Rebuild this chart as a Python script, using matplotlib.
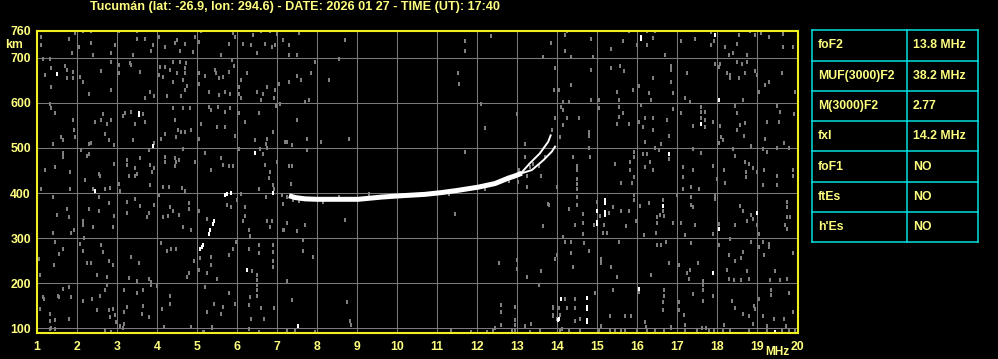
import matplotlib
matplotlib.use("Agg")
import matplotlib.pyplot as plt
import numpy as np

# ---------------- data ----------------
title = "Tucumán (lat: -26.9, lon: 294.6) - DATE: 2026 01 27 - TIME (UT): 17:40"
x_ticks = list(range(1, 21))
y_ticks = [100, 200, 300, 400, 500, 600, 700, 760]

param_names = ["foF2", "MUF(3000)F2", "M(3000)F2", "fxI", "foF1", "ftEs", "h'Es"]
param_values = ["13.8 MHz", "38.2 MHz", "2.77", "14.2 MHz", "NO", "NO", "NO"]

# main F2 trace (MHz, km)
trace_f = [7.30, 7.45, 7.70, 8.00, 8.45, 9.03, 9.62, 10.12, 10.70, 11.12, 11.53, 12.03, 12.45, 12.78, 12.95, 13.12]
trace_h = [394, 390, 387, 386, 386, 386, 391, 394, 397, 401, 406, 413, 421, 433, 438, 444]
# ordinary branch near critical frequency
o_branch_f = [13.12, 13.32, 13.57, 13.78, 13.84]
o_branch_h = [446, 466, 488, 514, 528]
# extraordinary branch
x_branch_f = [13.12, 13.37, 13.66, 13.87, 13.95]
x_branch_h = [444, 451, 473, 492, 503]
# faint low trace near 5 MHz
low_f = [5.08, 5.12, 5.14, 5.29, 5.33, 5.40, 5.43, 5.71, 5.75, 5.86]
low_h = [276, 280, 285, 310, 317, 332, 337, 396, 398, 400]

# white echo dots
white_dots = [(1.50, 665), (3.54, 573), (3.54, 577), (3.90, 504), (6.44, 488), (2.46, 404), (6.25, 230), (6.90, 401),
              (7.53, 104), (14.03, 117), (16.10, 747), (16.10, 743), (17.94, 751), (18.04, 606), (17.60, 553),
              (16.79, 486), (15.00, 359), (15.00, 335), (15.00, 331), (15.21, 384), (15.21, 378), (15.21, 357),
              (15.21, 352), (16.65, 371), (18.04, 321), (19.00, 356), (17.90, 223), (16.04, 187), (14.10, 165),
              (14.75, 166), (14.75, 146), (14.75, 142), (14.04, 119), (14.75, 117), (14.75, 113), (19.46, 91)]

# grey noise dots (MHz, km), read region by region
noise_low_f_top = [
    (1.10, 746), (1.10, 729), (1.79, 742), (1.94, 756), (2.14, 760), (2.35, 760), (2.04, 725), (2.35, 734), (1.88, 712),
    (2.40, 706), (2.96, 729), (2.85, 712), (3.06, 760), (3.50, 760), (3.50, 742), (3.69, 742), (3.40, 706), (3.89, 729),
    (3.86, 715), (4.06, 747), (4.19, 725), (4.50, 740), (4.44, 734), (4.69, 732), (4.57, 716), (4.89, 714), (4.94, 747),
    (5.06, 736), (5.10, 760), (5.60, 706), (5.79, 732), (5.89, 756), (5.96, 746), (6.14, 732), (6.36, 729), (6.40, 751),
    (6.50, 712), (6.59, 760), (6.71, 732), (6.82, 760), (6.88, 725), (6.96, 729), (7.00, 753), (7.15, 740),
    (1.15, 697), (1.32, 697), (1.21, 662), (1.35, 677), (1.35, 636), (1.71, 682), (1.75, 673), (1.75, 655), (1.89, 669),
    (1.90, 655), (2.08, 658), (2.15, 647), (2.29, 620), (2.60, 672), (2.85, 692), (2.85, 629), (3.04, 684), (3.04, 667),
    (3.32, 688), (3.35, 684), (3.58, 669), (3.71, 610), (3.83, 625), (3.93, 616), (4.04, 662), (4.08, 680), (4.15, 657),
    (4.19, 680), (4.33, 673), (4.40, 690), (4.50, 666), (4.57, 691), (4.69, 677), (4.71, 666), (4.72, 688), (4.65, 651),
    (4.75, 638), (4.69, 629), (4.40, 647), (4.25, 615), (4.60, 615), (5.04, 666), (5.06, 643), (5.21, 660), (5.31, 625),
    (5.44, 673), (5.48, 666), (5.54, 655), (5.54, 618), (5.64, 657), (5.71, 625), (5.79, 669), (5.82, 621), (5.88, 695),
    (5.92, 682), (6.04, 636), (6.04, 621), (6.10, 610), (6.10, 651), (6.25, 666), (6.50, 625), (6.65, 620), (6.60, 606),
    (6.75, 636), (6.93, 610), (6.94, 629), (7.04, 643),
    (1.33, 598), (1.35, 588), (1.46, 577), (1.89, 562), (1.60, 525), (1.65, 517), (1.40, 509), (1.93, 540), (1.96, 525),
    (2.29, 509), (2.35, 512), (2.46, 558), (2.60, 562), (2.65, 575), (2.69, 531), (2.75, 553), (2.79, 517), (2.85, 562),
    (2.93, 506), (3.15, 571), (3.21, 577), (3.35, 580), (3.65, 575), (3.44, 553), (3.71, 558), (3.40, 517), (3.92, 510),
    (4.11, 519), (4.21, 531), (4.40, 588), (4.44, 562), (4.52, 541), (4.65, 588), (4.82, 588), (4.60, 536), (4.71, 536),
    (4.85, 540), (4.48, 525), (5.04, 521), (5.10, 553), (5.29, 590), (5.35, 584), (5.52, 590), (5.50, 546), (5.71, 580),
    (5.69, 547), (5.83, 588), (5.96, 526), (6.04, 577), (6.21, 558), (6.46, 517), (6.54, 577), (6.73, 509), (6.75, 521),
    (6.90, 536), (6.97, 593), (7.08, 598), (7.21, 514),
    (1.65, 489), (1.65, 479), (1.21, 451), (1.46, 457), (1.83, 447), (2.10, 495), (2.25, 482), (2.29, 486), (2.21, 429),
    (2.58, 438), (2.54, 443), (2.93, 464), (3.25, 473), (3.25, 462), (3.29, 437), (3.46, 438), (3.50, 443), (3.44, 456),
    (3.58, 477), (3.79, 495), (3.83, 462), (3.92, 456), (3.88, 447), (4.19, 480), (4.19, 469), (4.44, 478), (4.48, 469),
    (4.56, 474), (4.64, 497), (4.96, 469), (4.46, 460), (5.21, 489), (5.35, 451), (5.60, 478), (5.65, 462), (5.79, 460),
    (5.90, 460), (6.04, 497), (6.58, 497), (6.75, 499), (6.64, 486), (6.71, 462), (6.83, 447), (6.81, 434), (7.00, 469),
]
noise_low_f_bottom = [
    (1.10, 410), (1.83, 408), (2.40, 410), (2.54, 391), (2.69, 410), (2.83, 411), (3.04, 421), (3.08, 404), (1.39, 391),
    (1.75, 365), (1.50, 352), (1.79, 347), (1.39, 312), (1.85, 312), (1.93, 317), (2.14, 337), (2.14, 330), (2.29, 365),
    (2.40, 324), (2.54, 361), (2.92, 350), (2.90, 324), (2.79, 378), (3.25, 381), (3.25, 356), (3.44, 387), (3.58, 371),
    (3.79, 356), (3.75, 347), (3.93, 374), (3.83, 417), (4.15, 413), (4.29, 413), (4.04, 396), (4.32, 369), (4.40, 359),
    (4.15, 347), (4.27, 349), (4.54, 352), (4.63, 411), (4.69, 404), (4.79, 378), (4.79, 365), (4.65, 324), (4.85, 317),
    (5.04, 361), (5.25, 343), (5.75, 374), (5.86, 369), (6.00, 384), (6.10, 398), (6.21, 369), (6.21, 350), (6.15, 337),
    (6.29, 317), (6.32, 304), (6.54, 410), (6.73, 391), (6.75, 337), (6.88, 337), (6.83, 324), (6.90, 418), (7.13, 396),
    (7.15, 376), (7.15, 317), (6.93, 410),
    (1.46, 292), (1.54, 265), (1.65, 276), (1.42, 239), (1.04, 253), (1.08, 217), (2.08, 287), (2.17, 300), (2.15, 272),
    (2.25, 245), (2.35, 245), (2.50, 218), (2.60, 285), (2.65, 270), (2.79, 250), (2.90, 241), (2.75, 213), (3.35, 258),
    (3.54, 245), (3.29, 211), (3.50, 204), (3.79, 208), (3.86, 202), (4.11, 290), (4.25, 272), (4.35, 276), (4.48, 276),
    (4.92, 250), (5.08, 255), (4.79, 223), (4.75, 213), (5.04, 228), (5.25, 223), (5.35, 258), (5.35, 239), (5.50, 208),
    (5.79, 263), (5.90, 276), (5.98, 292), (6.38, 226), (6.50, 218), (6.50, 206), (6.54, 284), (6.54, 267), (6.29, 276),
    (6.90, 285), (6.90, 269), (6.90, 248), (6.90, 236), (7.17, 317),
    (1.15, 169), (1.18, 165), (1.52, 172), (1.54, 169), (1.65, 186), (1.79, 191), (1.85, 169), (1.07, 143), (1.33, 132),
    (1.33, 115), (1.46, 117), (1.32, 98), (1.46, 98), (1.79, 119), (2.14, 159), (2.38, 164), (2.50, 141), (2.75, 195),
    (2.71, 184), (2.58, 172), (2.79, 139), (2.82, 124), (2.90, 143), (2.94, 130), (2.98, 113), (3.18, 184), (3.25, 147),
    (3.17, 135), (3.18, 110), (3.50, 178), (3.65, 184), (3.65, 150), (3.63, 132), (3.79, 124), (3.85, 196), (4.00, 193),
    (4.13, 143), (4.33, 172), (4.33, 154), (4.17, 102), (4.85, 102), (5.21, 191), (5.25, 135), (5.38, 102), (5.43, 154),
    (5.60, 132), (5.65, 147), (5.79, 178), (5.96, 154), (6.29, 152), (6.33, 169), (6.35, 119), (6.50, 184), (6.50, 172),
    (6.50, 195), (6.60, 144), (6.93, 144), (6.67, 119), (6.29, 98), (5.17, 92), (2.71, 95), (3.08, 104),
]
noise_mid_f = [
    (7.55, 756), (7.30, 729), (7.30, 706), (7.49, 706), (8.70, 740), (8.55, 697), (7.95, 692), (7.85, 667), (7.49, 660),
    (7.59, 652), (7.30, 647), (8.30, 651), (7.80, 606), (7.70, 603), (11.70, 738), (11.70, 716), (12.34, 749),
    (11.53, 667), (11.55, 643), (12.09, 598), (12.20, 545), (12.99, 575), (13.85, 734), (13.66, 703), (13.95, 678),
    (13.93, 629), (13.95, 567), (7.49, 562), (7.74, 521), (7.38, 507), (7.25, 514), (8.10, 514), (8.80, 519),
    (7.75, 495), (11.70, 492), (13.20, 509), (7.30, 460), (7.38, 460), (7.35, 421), (13.20, 479), (13.32, 458),
    (13.60, 438), (13.03, 425), (13.24, 414), (11.45, 353), (8.70, 340), (7.24, 334), (7.70, 329), (7.49, 315),
    (7.66, 295), (7.66, 272), (7.90, 258), (13.64, 327), (13.78, 375), (12.55, 245), (12.99, 251), (12.99, 232),
    (13.60, 227), (13.95, 254), (13.24, 214), (13.55, 195), (7.24, 205), (7.38, 162), (8.74, 158), (8.82, 116),
    (8.84, 106), (7.45, 95), (12.60, 151), (12.60, 136), (12.60, 106), (12.95, 147), (12.95, 118), (12.95, 106),
    (13.20, 104), (13.35, 109), (13.89, 146), (13.91, 127), (13.99, 119),
    (7.25, 392), (7.40, 384), (7.55, 382), (8.15, 380), (8.55, 392), (9.30, 398), (11.30, 397), (12.20, 409),
    (12.60, 426), (12.80, 427), (13.05, 451), (13.25, 438), (13.40, 465), (13.55, 460), (13.70, 480), (13.87, 540),
]
noise_high_f = [
    (13.85, 734), (14.21, 751), (14.25, 760), (14.19, 716), (14.35, 703), (14.85, 742), (14.90, 703), (15.35, 720),
    (15.65, 738), (15.79, 760), (16.00, 729), (16.25, 729), (16.25, 760), (16.44, 760), (16.40, 744), (16.69, 706),
    (17.10, 738), (17.44, 742), (17.85, 758), (17.85, 729), (17.93, 738), (18.19, 725), (18.29, 706), (18.39, 712),
    (18.54, 751), (18.50, 732), (18.75, 706), (18.83, 760), (18.96, 751), (19.10, 756), (19.29, 747), (19.65, 753),
    (19.65, 725), (19.90, 725), (13.96, 677), (14.04, 629), (14.35, 640), (14.15, 603), (14.29, 603), (14.85, 673),
    (14.85, 606), (15.04, 606), (15.35, 677), (15.58, 683), (15.67, 670), (15.50, 625), (15.54, 606), (15.90, 629),
    (16.04, 638), (16.29, 623), (16.40, 656), (16.35, 606), (16.85, 683), (16.85, 673), (16.85, 647), (16.90, 623),
    (17.25, 666), (17.19, 612), (17.32, 603), (17.94, 686), (18.04, 681), (18.08, 686), (18.25, 666), (18.33, 662),
    (18.32, 656), (18.54, 656), (18.50, 690), (18.62, 686), (18.71, 667), (18.75, 690), (18.96, 670), (19.00, 662),
    (19.21, 641), (19.29, 647), (19.62, 666), (19.96, 624), (19.04, 625), (18.64, 606),
    (14.10, 590), (14.14, 584), (14.25, 566), (14.15, 551), (14.08, 525), (13.96, 567), (14.54, 567), (14.79, 536),
    (14.79, 526), (15.04, 588), (15.54, 592), (15.54, 568), (15.65, 577), (15.50, 553), (15.79, 553), (16.10, 595),
    (16.15, 547), (16.19, 566), (16.04, 558), (16.40, 566), (16.40, 541), (16.90, 586), (16.75, 562), (16.79, 526),
    (16.60, 509), (16.21, 514), (17.10, 577), (17.40, 549), (17.60, 590), (17.60, 581), (17.60, 566), (17.71, 581),
    (17.71, 562), (17.69, 547), (17.90, 558), (18.08, 549), (18.10, 525), (18.15, 518), (18.04, 510), (18.46, 593),
    (18.50, 577), (18.57, 551), (18.50, 541), (18.71, 556), (18.67, 526), (18.85, 504), (19.21, 521), (19.25, 558),
    (19.50, 593), (19.58, 581), (19.54, 558), (19.93, 575), (19.67, 510),
    (14.40, 481), (14.79, 499), (14.83, 479), (14.50, 460), (14.50, 451), (14.50, 432), (15.46, 464), (15.82, 469),
    (15.93, 492), (15.93, 481), (15.93, 436), (15.83, 451), (16.21, 457), (16.15, 486), (16.25, 486), (16.46, 499),
    (16.54, 495), (16.33, 469), (16.40, 452), (16.79, 475), (17.15, 458), (17.15, 436), (17.40, 497), (17.40, 451),
    (17.60, 489), (17.90, 460), (18.00, 430), (18.17, 451), (18.40, 497), (18.46, 482), (18.71, 469), (18.79, 464),
    (18.73, 447), (18.90, 455), (18.73, 436), (19.00, 447), (19.15, 497), (19.25, 492), (19.50, 499), (19.17, 452),
    (19.50, 438), (19.79, 499), (19.90, 451), (19.90, 438),
    (14.00, 413), (14.50, 421), (14.50, 408), (15.60, 422), (15.87, 422), (17.15, 408), (17.35, 413), (17.54, 410),
    (18.19, 422), (19.15, 418), (19.50, 418), (13.79, 374), (14.29, 364), (14.50, 391), (14.50, 374), (14.65, 354),
    (14.65, 334), (14.44, 330), (14.65, 310), (14.92, 330), (15.00, 380), (15.08, 350), (15.29, 356), (15.40, 369),
    (15.60, 361), (15.79, 359), (15.73, 326), (15.18, 330), (15.15, 311), (15.25, 311), (15.93, 395), (15.93, 384),
    (16.08, 372), (16.29, 378), (15.98, 337), (16.50, 347), (16.50, 333), (16.58, 352), (16.65, 384), (16.65, 361),
    (16.68, 348), (16.90, 334), (16.48, 312), (16.18, 307), (17.00, 395), (17.10, 334), (17.35, 391), (17.35, 374),
    (17.40, 369), (17.44, 330), (17.19, 307), (17.90, 308), (17.94, 396), (17.94, 387), (18.04, 332), (18.44, 330),
    (18.58, 371), (18.65, 359), (18.75, 337), (18.85, 352), (18.90, 343), (19.00, 330), (19.04, 310), (19.75, 381),
    (19.75, 369), (19.75, 347), (19.83, 347), (19.71, 328), (19.75, 321),
    (14.15, 302), (14.21, 292), (14.35, 291), (14.68, 290), (14.79, 272), (14.35, 267), (14.00, 263), (13.96, 254),
    (14.40, 235), (15.10, 254), (15.10, 245), (15.35, 235), (15.54, 292), (15.50, 213), (16.50, 285), (16.60, 285),
    (16.73, 291), (16.79, 245), (16.35, 218), (17.04, 239), (17.25, 223), (17.32, 228), (17.52, 245), (17.35, 290),
    (17.29, 210), (18.04, 285), (18.25, 230), (18.29, 263), (18.46, 248), (18.60, 255), (18.65, 270), (18.33, 297),
    (18.75, 226), (18.79, 208), (18.60, 206), (18.85, 292), (19.04, 280), (19.15, 291), (19.29, 287), (19.29, 280),
    (19.17, 263), (19.46, 226), (19.90, 267), (19.75, 208), (19.58, 206), (19.33, 206), (18.29, 210), (18.43, 206),
    (14.21, 164), (14.46, 164), (14.04, 144), (14.25, 144), (14.46, 144), (13.90, 144), (14.08, 128), (13.90, 128),
    (14.57, 119), (14.46, 115), (14.13, 98), (14.96, 178), (15.10, 104), (15.40, 184), (15.32, 126), (15.71, 126),
    (15.85, 126), (16.04, 180), (16.21, 113), (16.23, 102), (16.68, 184), (16.68, 172), (16.65, 158), (16.65, 139),
    (16.85, 102), (17.04, 158), (17.04, 139), (17.18, 128), (17.19, 106), (17.39, 176), (17.65, 205), (17.65, 195),
    (17.65, 185), (17.65, 161), (17.73, 100), (17.90, 172), (18.17, 107), (18.38, 161), (18.46, 144), (18.65, 132),
    (18.79, 126), (18.90, 109), (18.93, 149), (18.96, 143), (19.04, 165), (19.15, 126), (19.25, 104), (19.35, 184),
    (19.35, 174), (19.42, 119), (19.67, 119), (19.73, 104), (19.79, 178), (19.90, 135),
]
noise_floor = [
    (1.34, 99), (1.45, 97), (2.70, 94), (2.85, 92), (3.16, 101), (4.84, 103), (5.14, 92), (5.37, 100), (6.31, 98),
    (6.56, 92), (7.24, 95), (7.45, 95), (7.95, 92), (8.85, 107), (11.34, 95), (11.84, 92), (12.26, 92), (12.39, 94),
    (12.45, 99), (12.87, 94), (12.95, 95), (13.33, 92), (13.58, 95), (14.08, 95), (14.29, 94), (14.58, 95),
    (15.04, 95), (15.33, 95), (15.45, 96), (15.60, 94), (15.71, 95), (16.00, 94), (16.25, 96), (16.46, 95),
    (16.67, 95), (16.85, 99), (17.20, 96), (17.50, 95), (17.62, 99), (17.80, 96), (17.92, 95), (18.15, 94),
    (18.33, 95), (18.79, 96), (19.25, 95), (19.62, 95), (19.79, 95), (19.96, 96),
]

# ---------------- styling ----------------
BG = "black"
FRAME = "#f0f020"
TXT = "#ffff80"
GRID = "#7a7a7a"
NOISE = "#7f7f7f"
CYAN = "#00e0e0"
FONT = ["Liberation Sans", "DejaVu Sans"]

W, H = 998, 359
fig = plt.figure(figsize=(W / 100, H / 100), dpi=100, facecolor=BG)

def fx(px):
    return px / W

def fy(py):
    return 1 - py / H

ax_l, ax_r, ax_t, ax_b = 36.5, 797.5, 30.5, 333
ax = fig.add_axes([fx(ax_l), fy(ax_b), fx(ax_r - ax_l), (ax_b - ax_t) / H])
ax.set_facecolor(BG)
ax.set_xlim(0.99, 20.01)
ax.set_ylim(89, 761)

for xv in x_ticks[1:-1]:
    ax.axvline(xv, color=GRID, lw=0.75, zorder=1)
for yv in y_ticks[:-1]:
    ax.axhline(yv, color=GRID, lw=0.75, zorder=1)

rect_marker = [(-0.3, -1), (0.3, -1), (0.3, 1), (-0.3, 1), (-0.3, -1)]

all_noise = noise_low_f_top + noise_low_f_bottom + noise_mid_f + noise_high_f + noise_floor
nf = [p[0] for p in all_noise]
nh = [p[1] for p in all_noise]
ax.plot(nf, nh, ls="none", marker=rect_marker, ms=2.7, mfc=NOISE, mec=NOISE, mew=0, zorder=2)

wf = [p[0] for p in white_dots]
wh = [p[1] for p in white_dots]
ax.plot(wf, wh, ls="none", marker=rect_marker, ms=3.0, mfc="white", mec="white", mew=0, zorder=3)

ax.plot(trace_f, trace_h, color="white", lw=3.6, solid_capstyle="butt", zorder=4)
ax.plot(o_branch_f, o_branch_h, color="white", lw=1.4, zorder=4)
ax.plot(x_branch_f, x_branch_h, color="white", lw=1.4, zorder=4)
ax.plot(low_f, low_h, ls="none", marker=rect_marker, ms=3.2, mfc="white", mec="white", mew=0, zorder=4)

for sp in ax.spines.values():
    sp.set_color(FRAME)
    sp.set_linewidth(1.5)
    sp.set_zorder(5)

ax.set_xticks(x_ticks)
ax.set_xticklabels([str(v) for v in x_ticks])
ax.set_yticks(y_ticks)
ax.set_yticklabels([str(v) for v in y_ticks])
ax.tick_params(length=0, colors=TXT, labelsize=8.8, pad=4)
ax.tick_params(axis="x", pad=6)
for lab in ax.get_xticklabels() + ax.get_yticklabels():
    lab.set_fontweight("bold")
    lab.set_family(FONT)
    lab.set_color(TXT)

fig.text(fx(14), fy(45), "km", color=TXT, fontsize=8.8, fontweight="bold", family=FONT,
         ha="center", va="center")
fig.text(fx(789), fy(352), "MHz", color=TXT, fontsize=8.6, fontweight="bold", family=FONT,
         ha="right", va="center")
fig.text(fx(295), fy(7), title, color=TXT, fontsize=9.1, fontweight="bold", family=FONT,
         ha="center", va="center")

# parameter table
tl, tr, tt, tb = 812, 977.5, 30.3, 242.3
tax = fig.add_axes([fx(tl), fy(tb), fx(tr - tl), (tb - tt) / H])
tax.set_facecolor(BG)
tax.set_xlim(0, 1)
n = len(param_names)
tax.set_ylim(n, 0)
tax.set_axis_off()
col_div = (907.3 - tl) / (tr - tl)
for i in range(n + 1):
    tax.axhline(i, color=CYAN, lw=1.1, clip_on=False)
tax.axvline(0, color=CYAN, lw=1.1, clip_on=False)
tax.axvline(1, color=CYAN, lw=1.1, clip_on=False)
tax.axvline(col_div, color=CYAN, lw=1.1, clip_on=False)
for i, (nm, val) in enumerate(zip(param_names, param_values)):
    tax.text((818 - tl) / (tr - tl), i + 0.5, nm, color=TXT, fontsize=8.8, fontweight="bold",
             family=FONT, ha="left", va="center")
    tax.text((913 - tl) / (tr - tl), i + 0.5, val, color=TXT, fontsize=8.8, fontweight="bold",
             family=FONT, ha="left", va="center")

fig.savefig("out.png", dpi=100, facecolor=BG)
